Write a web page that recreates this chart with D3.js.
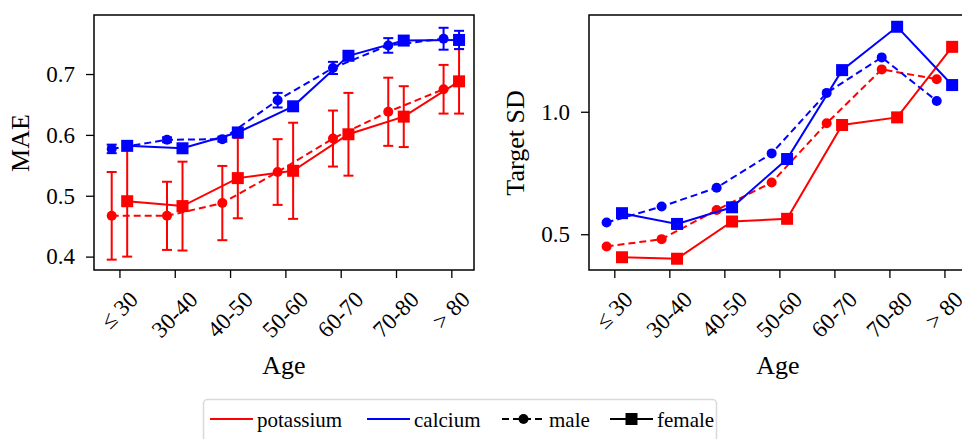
<!DOCTYPE html>
<html>
<head>
<meta charset="utf-8">
<script src="https://cdn.jsdelivr.net/npm/d3@7"></script>
<style>
  body { margin: 0; background: #fff; }
</style>
</head>
<body>
<svg width="962" height="439" viewBox="0 0 962 439"></svg>
<script>
// age groups on the x axis
const ageGroups = ["\u2264 30", "30-40", "40-50", "50-60", "60-70", "70-80", "> 80"];

// MAE (left panel), mean and error
const maePotassiumMale = [0.467, 0.467, 0.488, 0.539, 0.594, 0.638, 0.675];
const maePotassiumMaleErr = [0.072, 0.056, 0.061, 0.054, 0.046, 0.056, 0.040];
const maePotassiumFemale = [0.491, 0.483, 0.529, 0.541, 0.601, 0.630, 0.688];
const maePotassiumFemaleErr = [0.091, 0.073, 0.066, 0.079, 0.068, 0.050, 0.053];
const maeCalciumMale = [0.577, 0.592, 0.593, 0.657, 0.710, 0.747, 0.758];
const maeCalciumMaleErr = [0.007, 0.004, 0.004, 0.012, 0.010, 0.012, 0.018];
const maeCalciumFemale = [0.582, 0.578, 0.604, 0.647, 0.730, 0.755, 0.756];
const maeCalciumFemaleErr = [0.004, 0.004, 0.004, 0.005, 0.005, 0.006, 0.015];

// Target SD (right panel)
const sdPotassiumMale = [0.450, 0.480, 0.599, 0.711, 0.953, 1.173, 1.133];
const sdPotassiumFemale = [0.406, 0.400, 0.552, 0.563, 0.946, 0.977, 1.265];
const sdCalciumMale = [0.548, 0.613, 0.690, 0.830, 1.077, 1.222, 1.044];
const sdCalciumFemale = [0.586, 0.542, 0.610, 0.807, 1.170, 1.347, 1.109];

const maeTicks = [0.4, 0.5, 0.6, 0.7];
const sdTicks = [0.5, 1.0];

const svg = d3.select("svg");
const RED = "#ff0000", BLUE = "#0000ff";
const OFFSET = 0.14;
const FONT = "'Liberation Serif', 'DejaVu Serif', serif";
const TICK_FS = 23, LABEL_FS = 26, LEGEND_FS = 21;

function panel(cfg) {
    const g = svg.append("g");
    const x = d3.scaleLinear().domain([-0.46, 6.41]).range([cfg.left, cfg.right]);
    const y = d3.scaleLinear().domain(cfg.yDomain).range([270, 15]);

    // series: potassium first, calcium on top
    cfg.series.forEach(s => {
        const off = s.male ? -OFFSET : OFFSET;
        const pts = s.values.map((v, i) => ({ x: x(i + off), y: y(v), v, e: s.err ? s.err[i] : 0 }));
        const sg = g.append("g");

        if (s.err) {
            const eb = sg.selectAll(".eb").data(pts).enter().append("g")
                .attr("stroke", s.color).attr("stroke-width", 2);
            eb.append("line")
                .attr("x1", d => d.x).attr("x2", d => d.x)
                .attr("y1", d => y(d.v - d.e)).attr("y2", d => y(d.v + d.e));
            eb.append("line")
                .attr("x1", d => d.x - 5).attr("x2", d => d.x + 5)
                .attr("y1", d => y(d.v - d.e)).attr("y2", d => y(d.v - d.e));
            eb.append("line")
                .attr("x1", d => d.x - 5).attr("x2", d => d.x + 5)
                .attr("y1", d => y(d.v + d.e)).attr("y2", d => y(d.v + d.e));
        }

        sg.append("path")
            .attr("d", d3.line().x(d => d.x).y(d => d.y)(pts))
            .attr("fill", "none")
            .attr("stroke", s.color)
            .attr("stroke-width", 2)
            .attr("stroke-dasharray", s.male ? "7,4" : null);

        if (s.male) {
            sg.selectAll("circle").data(pts).enter().append("circle")
                .attr("cx", d => d.x).attr("cy", d => d.y).attr("r", 5)
                .attr("fill", s.color);
        } else {
            sg.selectAll("rect").data(pts).enter().append("rect")
                .attr("x", d => d.x - 6).attr("y", d => d.y - 6)
                .attr("width", 12).attr("height", 12)
                .attr("fill", s.color);
        }
    });

    // frame
    g.append("rect")
        .attr("x", cfg.left).attr("y", 15)
        .attr("width", cfg.right - cfg.left).attr("height", 255)
        .attr("fill", "none").attr("stroke", "#000").attr("stroke-width", 1.5);

    // y axis
    const yAxis = g.append("g").attr("transform", `translate(${cfg.left},0)`)
        .call(d3.axisLeft(y).tickValues(cfg.yTicks).tickFormat(d3.format(".1f")).tickSize(8).tickPadding(11));
    yAxis.attr("font-family", null).attr("font-size", null);
    yAxis.select(".domain").remove();
    yAxis.selectAll(".tick line").attr("stroke", "#000").attr("stroke-width", 1.3);
    yAxis.selectAll(".tick text").style("font-family", FONT).style("font-size", TICK_FS + "px");

    // x axis
    const xAxis = g.append("g").attr("transform", "translate(0,270)")
        .call(d3.axisBottom(x).tickValues(d3.range(ageGroups.length)).tickFormat("").tickSize(8));
    xAxis.select(".domain").remove();
    xAxis.selectAll(".tick line").attr("stroke", "#000").attr("stroke-width", 1.3);

    // rotated age labels, bbox top fixed, centred under each tick
    ageGroups.forEach((label, i) => {
        const t = g.append("text")
            .style("font-family", FONT).style("font-size", TICK_FS + "px")
            .attr("text-anchor", "middle")
            .attr("dominant-baseline", "central")
            .text(label);
        const len = t.node().getComputedTextLength();
        const half = (len + 16) * Math.SQRT1_2 / 2;
        t.attr("transform", `translate(${x(i)},${290 + half}) rotate(-45)`);
    });

    g.append("text")
        .attr("x", (cfg.left + cfg.right) / 2).attr("y", 374)
        .attr("text-anchor", "middle")
        .style("font-family", FONT).style("font-size", LABEL_FS + "px")
        .text("Age");

    g.append("text")
        .attr("transform", `translate(${cfg.left - 74},143) rotate(-90)`)
        .attr("text-anchor", "middle").attr("dominant-baseline", "central")
        .style("font-family", FONT).style("font-size", LABEL_FS + "px")
        .text(cfg.yLabel);
}

panel({
    left: 94, right: 474, yDomain: [0.378, 0.797], yTicks: maeTicks, yLabel: "MAE",
    series: [
        { values: maePotassiumMale, err: maePotassiumMaleErr, color: RED, male: true },
        { values: maePotassiumFemale, err: maePotassiumFemaleErr, color: RED, male: false },
        { values: maeCalciumMale, err: maeCalciumMaleErr, color: BLUE, male: true },
        { values: maeCalciumFemale, err: maeCalciumFemaleErr, color: BLUE, male: false }
    ]
});

panel({
    left: 589, right: 967, yDomain: [0.354, 1.395], yTicks: sdTicks, yLabel: "Target SD",
    series: [
        { values: sdPotassiumMale, color: RED, male: true },
        { values: sdPotassiumFemale, color: RED, male: false },
        { values: sdCalciumMale, color: BLUE, male: true },
        { values: sdCalciumFemale, color: BLUE, male: false }
    ]
});

// legend
const legend = svg.append("g");
legend.append("rect")
    .attr("x", 203.5).attr("y", 399.5).attr("width", 513).attr("height", 50)
    .attr("rx", 4).attr("fill", "#fff").attr("stroke", "#d9d9d9").attr("stroke-width", 1.5);

const legendItems = [
    { label: "potassium", color: RED, x: 210, dash: null, marker: null },
    { label: "calcium", color: BLUE, x: 367, dash: null, marker: null },
    { label: "male", color: "#000", x: 502, dash: "7,4", marker: "circle" },
    { label: "female", color: "#000", x: 610, dash: null, marker: "square" }
];
legendItems.forEach(it => {
    const ly = 419;
    legend.append("line")
        .attr("x1", it.x).attr("x2", it.x + 43).attr("y1", ly).attr("y2", ly)
        .attr("stroke", it.color).attr("stroke-width", 2)
        .attr("stroke-dasharray", it.dash);
    if (it.marker === "circle") {
        legend.append("circle").attr("cx", it.x + 21.5).attr("cy", ly).attr("r", 5).attr("fill", it.color);
    } else if (it.marker === "square") {
        legend.append("rect").attr("x", it.x + 21.5 - 6).attr("y", ly - 6)
            .attr("width", 12).attr("height", 12).attr("fill", it.color);
    }
    legend.append("text")
        .attr("x", it.x + 47).attr("y", 427)
        .style("font-family", FONT).style("font-size", LEGEND_FS + "px")
        .text(it.label);
});
</script>
</body>
</html>
